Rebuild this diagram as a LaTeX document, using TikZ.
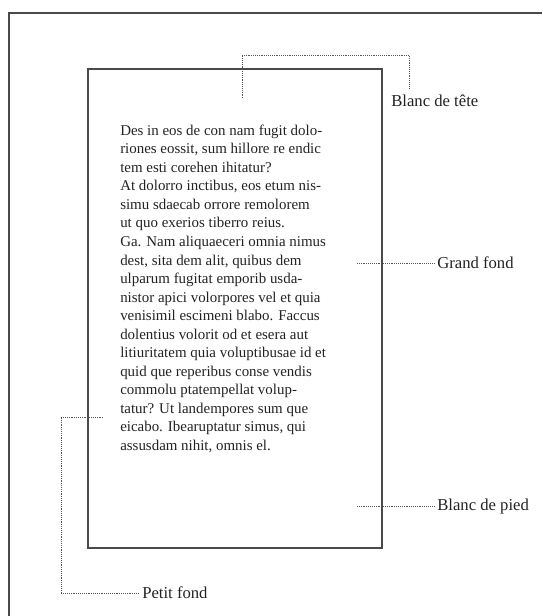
\documentclass[tikz,border=0pt]{standalone}
\usepackage{fontspec}
\setmainfont{Liberation Serif}
\definecolor{framegray}{HTML}{4A4A4A}
\definecolor{dotgray}{HTML}{555555}
\definecolor{inkk}{HTML}{222222}
\begin{document}
\begin{tikzpicture}[x=0.75pt,y=-0.75pt,
  frame/.style={draw=framegray,line width=1.2pt},
  leader/.style={draw=dotgray,line width=0.6pt,dash pattern=on 0.55pt off 0.85pt},
  lbl/.style={anchor=west,inner sep=0pt,text=inkk,font=\fontsize{12.5pt}{15pt}\selectfont},
  bodyline/.style={anchor=base west,inner sep=0pt,text=inkk,font=\fontsize{11.2pt}{13.9pt}\selectfont}]
\useasboundingbox (0,0) rectangle (542,616);
% outer frame (top and left)
\draw[frame] (542,13) -- (9,13) -- (9,616);
% page block
\draw[frame] (88,69) rectangle (382,548);
% body text
\foreach \t [count=\i] in {
 {Des in eos de con nam fugit dolo-},
 {riones eossit, sum hillore re endic},
 {tem esti corehen ihitatur?},
 {At dolorro inctibus, eos etum nis-},
 {simu sdaecab orrore remolorem},
 {ut quo exerios tiberro reius.},
 {Ga. Nam aliquaeceri omnia nimus},
 {dest, sita dem alit, quibus dem},
 {ulparum fugitat emporib usda-},
 {nistor apici volorpores vel et quia},
 {venisimil escimeni blabo. Faccus},
 {dolentius volorit od et esera aut},
 {litiuritatem quia voluptibusae id et},
 {quid que reperibus conse vendis},
 {commolu ptatempellat volup-},
 {tatur? Ut landempores sum que},
 {eicabo. Ibearuptatur simus, qui},
 {assusdam nihit, omnis el.}}
 {\node[bodyline] (l\i) at (120,{135.5+18.5*(\i-1)}) {\t};}
% labels
\node[lbl] (tete) at (391,101) {Blanc de tête};
\node[lbl] (grand) at (437,263) {Grand fond};
\node[lbl] (pied) at (437,506) {Blanc de pied};
\node[lbl] (petit) at (142,593) {Petit fond};
% leader anchors
\coordinate (teteA) at (242,98);
\coordinate (teteB) at (409,89);
\coordinate (grandA) at (357,263);
\coordinate (piedA) at (357,506);
\coordinate (petitA) at (103,417);
% leaders
\draw[leader] (teteA) |- (teteB |- 0,55) -- (teteB);
\draw[leader] (grandA) -- ([xshift=-2]grand.west);
\draw[leader] (piedA) -- ([xshift=-2]pied.west);
\draw[leader] (petitA) -| (61,593) -- ([xshift=-3]petit.west);
\end{tikzpicture}
\end{document}
